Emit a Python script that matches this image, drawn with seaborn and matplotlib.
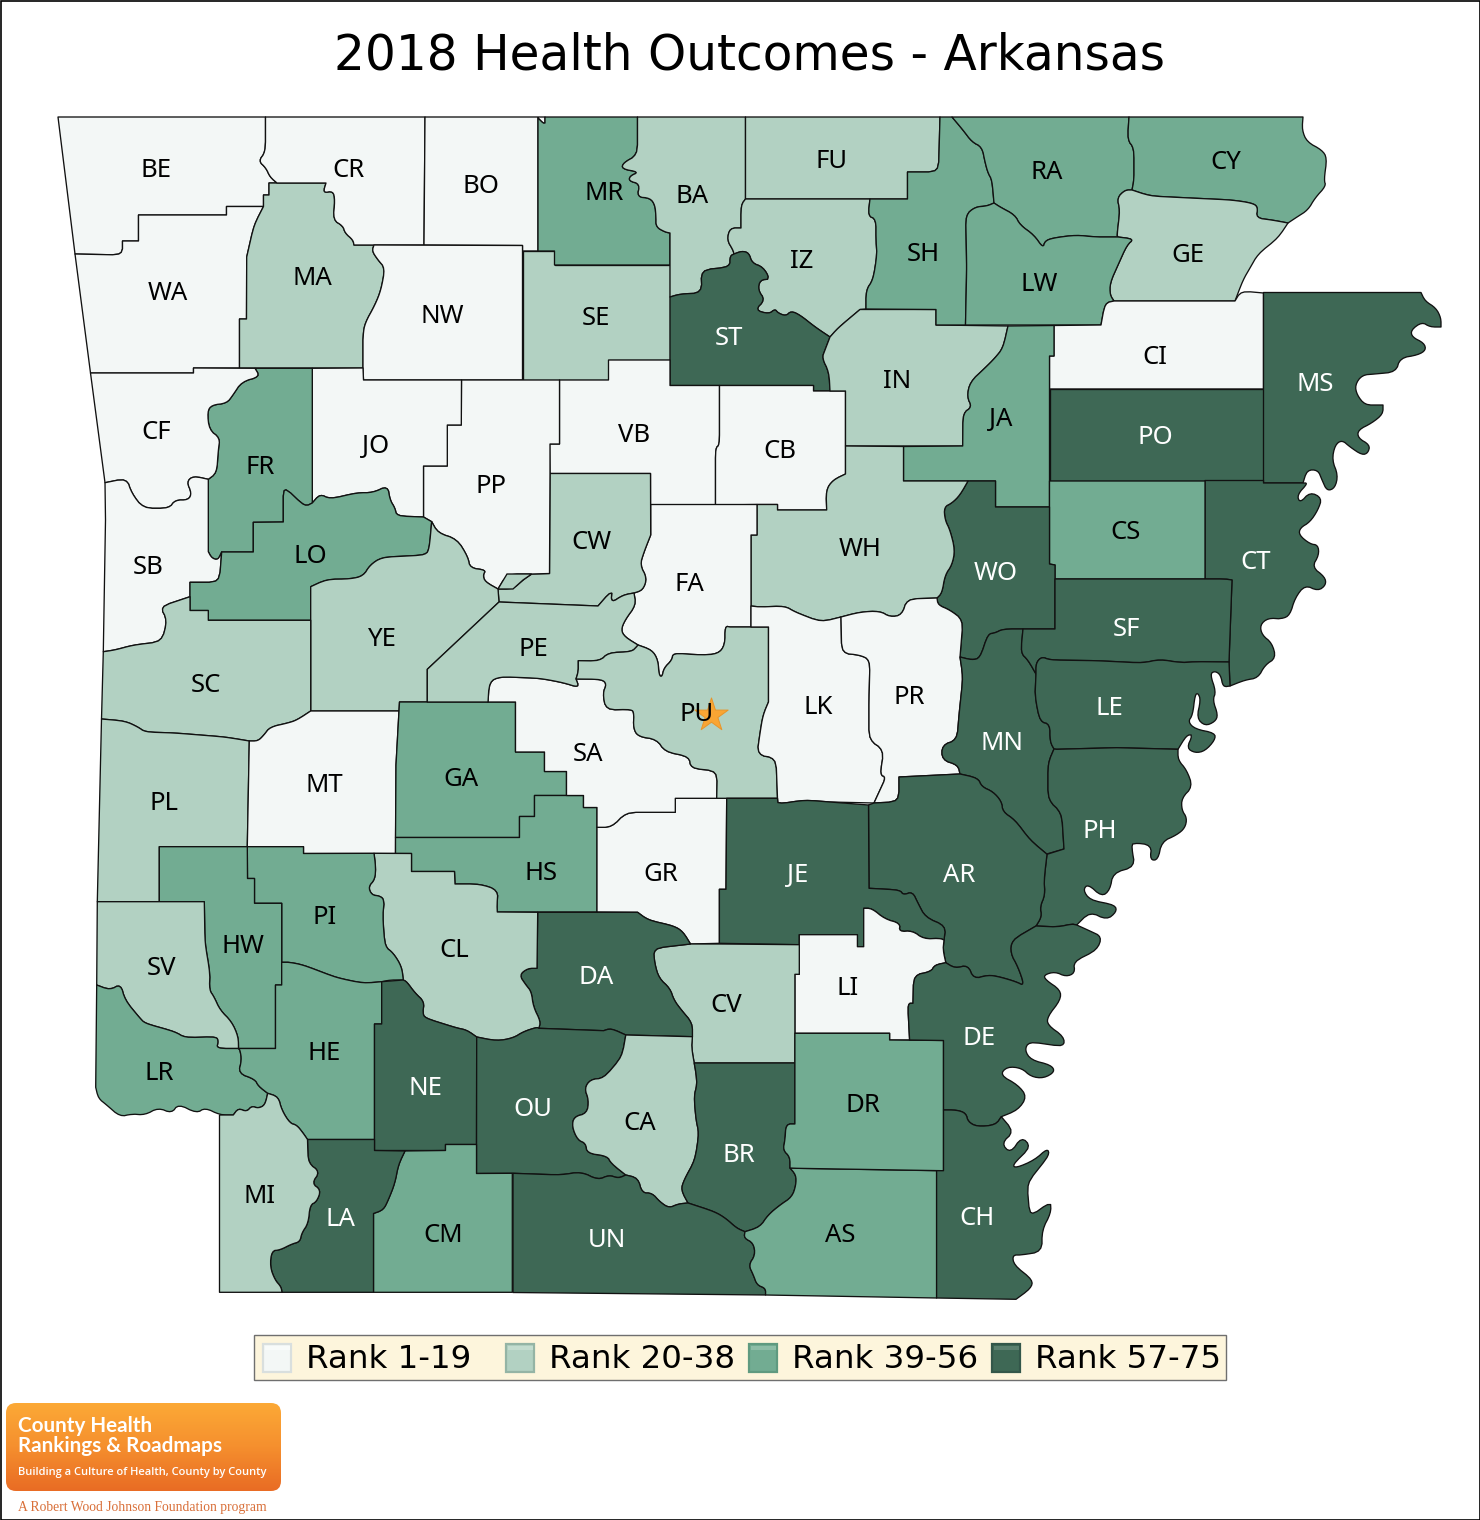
import matplotlib
matplotlib.use("Agg")
import matplotlib.pyplot as plt
from matplotlib.patches import FancyBboxPatch, Polygon, Rectangle
import numpy as np, pandas as pd
import seaborn as sns

title = "2018 Health Outcomes - Arkansas"
rank_labels = ["Rank 1-19", "Rank 20-38", "Rank 39-56", "Rank 57-75"]
rank_colors = ["#f3f7f6", "#b2d1c2", "#72ac92", "#3e6855"]

tier_1 = ["BE", "CR", "BO", "WA", "NW", "CF", "JO", "PP", "VB", "CB", "CI", "SB", "FA", "LK", "PR", "SA", "MT", "GR", "LI"]
tier_2 = ["BA", "FU", "MA", "SE", "IZ", "IN", "GE", "CW", "WH", "SC", "YE", "PE", "PU", "PL", "CL", "CV", "SV", "MI", "CA"]
tier_3 = ["MR", "SH", "RA", "CY", "LW", "FR", "JA", "LO", "CS", "GA", "HS", "PI", "HW", "HE", "LR", "DR", "CM", "AS"]
tier_4 = ["ST", "MS", "PO", "WO", "CT", "SF", "MN", "LE", "JE", "AR", "PH", "DA", "DE", "NE", "OU", "BR", "LA", "UN", "CH"]

# where each county code sits on the map
label_xy = {
    "BE": (156, 168), "CR": (349, 168), "BO": (481, 184), "MR": (604, 191), "BA": (692, 194), "FU": (832, 159),
    "RA": (1047, 170), "CY": (1226, 160), "WA": (168, 291), "MA": (312, 276), "NW": (442, 314), "SE": (596, 316),
    "IZ": (802, 259), "SH": (923, 252), "LW": (1039, 282), "GE": (1188, 253), "ST": (729, 336), "IN": (897, 379),
    "CI": (1155, 355), "MS": (1315, 382), "CF": (156, 430), "FR": (260, 465), "JO": (376, 444), "PP": (491, 484),
    "VB": (634, 433), "CB": (780, 449), "JA": (1001, 417), "PO": (1155, 435), "SB": (148, 565), "LO": (310, 554),
    "CW": (591, 540), "FA": (689, 582), "WH": (860, 547), "WO": (996, 571), "CS": (1126, 530), "CT": (1256, 560),
    "SC": (206, 683), "YE": (382, 637), "PE": (533, 647), "SF": (1126, 627), "LK": (818, 705), "PR": (909, 695),
    "PU": (697, 712), "SA": (588, 752), "LE": (1109, 706), "MN": (1002, 741), "PL": (164, 801), "MT": (324, 783),
    "GA": (461, 777), "HS": (541, 871), "GR": (661, 872), "JE": (798, 873), "AR": (959, 873), "PH": (1100, 829),
    "SV": (161, 966), "HW": (243, 944), "PI": (325, 915), "CL": (454, 948), "DA": (596, 975), "CV": (726, 1003),
    "LI": (848, 986), "DE": (979, 1036), "LR": (159, 1071), "HE": (324, 1051), "NE": (425, 1086), "OU": (533, 1107),
    "CA": (640, 1121), "BR": (739, 1153), "DR": (863, 1103), "LA": (340, 1217), "MI": (260, 1194), "CM": (443, 1233),
    "UN": (607, 1238), "AS": (840, 1233), "CH": (977, 1216),
}

# county outlines, in image pixels
outlines = {
    "BE": [(58,117),(265.5,117),(265.5,152),(258.5,161),(266,168),(270,177),(277,183),(269,183),(269,195),(263.5,195),(263.5,206.5),(226.5,206.5),(226.5,215),(138.5,215),(138.5,241),(122.5,241),(122.5,255),(75,254)],
    "WA": [(75,254),(122.5,255),(122.5,241),(138.5,241),(138.5,215),(226.5,215),(226.5,206.5),(263.5,206.5),(254,225),(246.7,257),(246.5,319),(239.5,319),(239.5,368),(193.5,368),(193.5,373),(90.5,373)],
    "MA": [(269,183),(326,183),(323,193),(333,191),(335,200),(333,220),(343,226),(345,233),(353,240),(354,245),(374,245),(372,251),(378,260),(385,268),(381,290),(375,305),(365,323),(363,335),(363,368),(239.5,368),(239.5,319),(246.5,319),(246.7,257),(254,225),(263.5,206.5),(263.5,195),(269,195)],
    "CR": [(265.5,117),(425,117),(424,245),(354,245),(353,240),(345,233),(343,226),(333,220),(335,200),(333,191),(323,193),(326,183),(277,183),(270,177),(266,168),(258.5,161),(265.5,152)],
    "BO": [(425,117),(545,117),(545,125),(538,118),(538,251),(522.5,251),(522.5,245.5),(424,245)],
    "NW": [(374,245),(522.5,245.5),(522.5,380),(363.5,380),(363,368),(363,335),(365,323),(375,305),(381,290),(385,268),(378,260),(372,251)],
    "SE": [(522.5,251),(554.5,251),(554.5,265),(670,265),(670,360),(608.5,360),(608.5,380),(522.5,380)],
    "MR": [(545,117),(637.5,117),(637.5,155),(623,163),(622,169),(639,172),(630,176),(629,181),(640,184),(637,197),(650,198),(655,205),(656,217),(656,227),(665,232),(670,233),(670,265),(554.5,265),(554.5,251),(538,251),(538,118),(545,125)],
    "BA": [(637.5,117),(745.5,117),(745.5,199),(741,205),(741,228),(730,228),(727,240),(733,250),(734,254),(730,256),(730,267),(701,270),(702,293),(680,294),(670,297),(670,233),(665,232),(656,227),(656,217),(655,205),(650,198),(637,197),(640,184),(629,181),(630,176),(639,172),(622,169),(623,163),(637.5,155)],
    "FU": [(745.5,117),(940,117),(938.5,172),(907.5,172),(907.5,199),(745.5,199)],
    "IZ": [(745.5,199),(870,199),(868,216),(876,219),(876,240),(877,255),(873,280),(866,290),(866,309),(860,309.5),(838,328),(830,337),(815,327),(800,315),(791,311),(786,316),(778,313),(775,309),(769,314),(755,310),(765,300),(758,290),(760,280),(770,279),(763,267),(752,263),(749,253),(742,251),(734,254),(733,250),(727,240),(730,228),(741,228),(741,205)],
    "ST": [(670,297),(680,294),(702,293),(701,270),(730,267),(730,256),(734,254),(742,251),(749,253),(752,263),(763,267),(770,279),(760,280),(758,290),(765,300),(755,310),(769,314),(775,309),(778,313),(786,316),(791,311),(800,315),(815,327),(830,337),(825,350),(822,358),(829,372),(830,391),(813.5,391),(813.5,385.5),(670,385.5)],
    "VB": [(608.5,360),(670,360),(670,385.5),(719.5,385.5),(719.5,445),(715.5,448),(715.5,505),(650.5,505),(650.5,473.5),(550,473.5),(549.5,444),(559.5,444),(559.5,380),(608.5,380)],
    "CB": [(719.5,385.5),(813.5,385.5),(813.5,391),(845.5,391),(845.5,474),(833,480),(826,490),(826.7,510),(777.5,510),(777.5,504.5),(757,504.5),(715.5,505),(715.5,448),(719.5,445)],
    "IN": [(860,309.5),(936,309.5),(936,325),(1008,326),(1003,348),(995,358),(985,368),(970,382),(967,397),(972,407),(963,413),(962.7,446),(845.5,446),(845.5,391),(830,391),(829,372),(822,358),(825,350),(830,337),(838,328)],
    "SH": [(940,117),(952,117),(963,130),(972,142),(982,147),(985,162),(988,173),(992,180),(994,203),(987,206),(975,207),(965.7,215),(966.7,267),(965.5,325),(936,325),(936,309.5),(866,309),(866,290),(873,280),(877,255),(876,240),(876,219),(868,216),(870,199),(907.5,199),(907.5,172),(938.5,172)],
    "RA": [(952,117),(1129,117),(1127.5,140),(1134,148),(1134,180),(1132,190),(1125,190),(1117,198),(1120,210),(1117,235),(1118,237),(1095,237),(1076,235),(1053,238),(1045,241),(1043,248),(1034,235),(1020,225),(1015,215),(1000,207),(994,203),(992,180),(988,173),(985,162),(982,147),(972,142),(963,130)],
    "CY": [(1129,117),(1303,117),(1302,130),(1307,142),(1322,150),(1327,158),(1324,180),(1326,186),(1315,198),(1308,210),(1297,217),(1288,223),(1272,220),(1256,218),(1258,207),(1252,203),(1232,200),(1190,198),(1150,196),(1132,190),(1134,180),(1134,148),(1127.5,140)],
    "GE": [(1132,190),(1150,196),(1190,198),(1232,200),(1252,203),(1258,207),(1256,218),(1272,220),(1288,223),(1278,238),(1258,254),(1250,268),(1243,280),(1235,301),(1114,301),(1110,295),(1110,283),(1118,265),(1127,245),(1134,239),(1118,237),(1117,235),(1120,210),(1117,198),(1125,190)],
    "LW": [(965.7,215),(975,207),(987,206),(994,203),(1000,207),(1015,215),(1020,225),(1034,235),(1043,248),(1045,241),(1053,238),(1076,235),(1095,237),(1118,237),(1134,239),(1127,245),(1118,265),(1110,283),(1110,295),(1114,301),(1105,303),(1101,325),(965.5,325),(966.7,267)],
    "CI": [(1114,301),(1235,301),(1241,291),(1263.5,293),(1263.5,389),(1049.5,389),(1049.5,356),(1054,356),(1054,325.5),(1101,325),(1105,303)],
    "JA": [(1008,326),(1054,325.5),(1054,356),(1049.5,356),(1049.5,507),(995.5,507),(995.5,481),(903.5,481),(903.5,446.5),(962.7,446),(963,413),(972,407),(967,397),(970,382),(985,368),(995,358),(1003,348)],
    "PO": [(1049.5,389),(1263.5,389),(1263.5,480.5),(1049.5,480.5)],
    "MS": [(1263.5,292.5),(1421,292.5),(1425,301),(1436,308),(1441,318),(1441,327),(1430,327),(1422,322),(1411,330),(1412,337),(1424,343),(1426,350),(1418,355),(1400,358),(1396,372),(1375,374),(1362,375),(1355,385),(1357,395),(1365,405),(1378,405),(1383,405),(1383,414),(1372,423),(1358,430),(1358,438),(1370,445),(1368,453),(1362,455),(1350,447),(1342,440),(1335,445),(1332,460),(1338,475),(1335,488),(1327,491),(1322,480),(1318,470),(1307,470),(1303,483),(1263.5,483)],
    "CT": [(1205,480.5),(1263.5,480.5),(1263.5,483),(1303,483),(1308,483),(1297,495),(1300,503),(1310,492),(1322,498),(1318,510),(1310,522),(1300,528),(1299,535),(1310,544),(1318,545),(1319,555),(1312,567),(1325,577),(1326,585),(1318,591),(1305,585),(1295,598),(1290,615),(1282,619),(1268,618),(1260,625),(1262,635),(1272,643),(1276,658),(1265,665),(1258,678),(1245,680),(1230,686),(1229,662),(1232,580),(1225,579),(1205,579)],
    "CS": [(1049.5,481),(1205,481),(1205,579),(1055,579),(1055,565),(1049.5,564)],
    "WO": [(968,481),(995.5,481),(995.5,507),(1049.5,507),(1049.5,564),(1055,565),(1055,629),(1023,629),(1003,629),(995,633),(988,634),(980,658),(972,660),(960,657),(963,620),(950,610),(938,605),(937,598),(942,593),(945,575),(952,565),(955,550),(950,530),(945,520),(944,507),(952,503),(960,495)],
    "WH": [(757,504.5),(777.5,504.5),(777.5,510),(826.7,510),(826,490),(833,480),(845.5,474),(845.5,446),(903.5,446.5),(903.5,481),(968,481),(960,495),(952,503),(944,507),(945,520),(950,530),(955,550),(952,565),(945,575),(942,593),(937,598),(907,599),(902,615),(890,617),(880,611),(860,612),(841,617),(821,622),(795,612),(785,606),(760,607),(751,606),(751,535),(757,535)],
    "FA": [(650.7,504.5),(757,504.5),(757,535),(751,535),(751,627),(730,627),(725,626),(725,645),(718,654),(700,655),(673,653),(672,660),(664,668),(662,677),(659,675),(658,660),(652,650),(638,645),(625,637),(621,630),(625,620),(636,605),(634,593),(643,590),(647,578),(640,565),(644,552),(650.7,535)],
    "CW": [(550,473.5),(650.5,473.5),(650.7,535),(644,552),(640,565),(647,578),(643,590),(634,593),(623,595),(611,603),(612,590),(598,606),(499,602),(498,589),(513,589),(523,580),(531.7,574),(549.5,573.5)],
    "PP": [(461.5,380),(559.5,380),(559.5,444),(550,444),(550,473.5),(549.5,573.5),(531.7,574),(507,574),(498,589),(485,581.7),(483,575),(486,570),(470,568),(468,557),(457,539),(438,533),(431.7,521.7),(423.5,517),(423.5,466),(447.3,466),(447.3,425),(461.3,425)],
    "JO": [(312.3,368.3),(363,368),(363.5,380),(461.5,380),(461.3,425),(447.3,425),(447.3,466),(423.5,466),(423.5,517),(396.7,516),(395,508),(390,500),(387.7,485.7),(373,492.7),(357,492.7),(330,499),(320,494),(312.3,503)],
    "FR": [(255,368.3),(312.3,368.3),(312.3,503),(305,506.7),(283.3,486),(283.3,522),(253.3,522.3),(253.3,552),(221.7,552),(218,560),(211.7,558),(208.3,551.7),(208.3,479.3),(216.7,473),(218.3,450),(220,438),(209.3,430),(207.3,411.7),(211.7,405),(226.7,403.3),(233,395),(241.7,381.7),(260,376.7)],
    "CF": [(90.5,373),(193.5,373),(193.5,368),(255,368.3),(260,376.7),(241.7,381.7),(233,395),(226.7,403.3),(211.7,405),(207.3,411.7),(209.3,430),(220,438),(218.3,450),(216.7,473),(208.3,479.3),(193.3,476),(186.7,481.7),(191.7,493.3),(188.3,500),(175,500),(169.3,508.3),(143.3,508.3),(131.7,493.3),(126.7,478.3),(105,482.7)],
    "SB": [(105,482.7),(126.7,478.3),(131.7,493.3),(143.3,508.3),(169.3,508.3),(175,500),(188.3,500),(191.7,493.3),(186.7,481.7),(193.3,476),(208.3,479.3),(208.3,551.7),(211.7,558),(218,560),(221.7,552),(219.3,582.3),(190,582.3),(190,596.7),(160,606.7),(167.3,620),(161.7,641.7),(133.3,645),(115,650),(103.3,651.7),(105.5,520)],
    "LO": [(283.3,486),(305,506.7),(312.3,503),(320,494),(330,499),(357,492.7),(373,492.7),(387.7,485.7),(390,500),(395,508),(396.7,516),(423.5,517),(431.7,521.7),(429.3,548),(426,555),(381.7,557.3),(370,565),(363.3,576),(350,579),(326.7,579.3),(310.7,586.7),(310.7,620.3),(208.3,620.3),(208.3,610.5),(190,610.5),(190,582.3),(219.3,582.3),(221.7,552),(253.3,552),(253.3,522.3),(283.3,522)],
    "YE": [(310.7,586.7),(326.7,579.3),(350,579),(363.3,576),(370,565),(381.7,557.3),(426,555),(429.3,548),(431.7,521.7),(438,533),(457,539),(468,557),(470,568),(486,570),(483,575),(485,581.7),(498,589),(499,602),(427.3,669.3),(427.3,702),(399.5,702),(399,711),(310.7,711)],
    "SC": [(103.3,651.7),(115,650),(133.3,645),(161.7,641.7),(167.3,620),(160,606.7),(190,596.7),(190,610.5),(208.3,610.5),(208.3,620.3),(310.7,620.3),(310.7,711),(297,720),(288,723),(270,727),(264,735),(258,741),(249.3,741),(225,737),(175,733),(145,732),(138,727),(125,721),(101.5,719)],
    "PL": [(101.5,719),(125,721),(138,727),(145,732),(175,733),(225,737),(249.3,741),(247.3,846.7),(159.3,846.7),(159.3,901.7),(97.3,901.7)],
    "MT": [(249.3,741),(258,741),(264,735),(270,727),(288,723),(297,720),(310.7,711),(399,711),(396,765),(395.5,853.5),(303.5,853.5),(303.5,846.7),(247.3,846.7)],
    "GA": [(399.5,702),(515.5,702),(515.5,752),(544.5,752),(544.5,771.5),(566.5,771.5),(566.5,795.5),(534.5,795.5),(534.5,816.5),(519.5,816.5),(519.5,837.5),(395.5,837.5),(396,765)],
    "HS": [(395.5,837.5),(519.5,837.5),(519.5,816.5),(534.5,816.5),(534.5,795.5),(583.5,795.5),(583.5,807.5),(597,807.5),(597,912),(497.3,912),(497,905),(498,890),(480,884),(455,884),(454.5,871.5),(411.5,871.5),(411.5,853.5),(395.5,853.5)],
    "GR": [(597,827.3),(611.7,827.3),(626,812.3),(675.3,812.3),(675.3,798.3),(726.7,798.3),(726,889.3),(719.4,889.3),(719.4,943.3),(690.5,944),(683,931.7),(674,926),(648,920),(637.6,912.3),(597,912)],
    "SA": [(489.3,681.7),(500,676.7),(540,678.3),(563.3,682.7),(579.3,687.7),(576,679),(601.7,679.3),(606.7,684),(602.7,693.3),(606,710),(631.7,709.3),(634,713.3),(633.3,728.3),(638.3,736.7),(656.7,739.3),(665,751.7),(689.3,756.7),(690.7,768.3),(717.3,771),(716.7,798.3),(675.3,798.3),(675.3,812.3),(626,812.3),(611.7,827.3),(597,827.3),(597,807.5),(583.5,807.5),(583.5,795.5),(566.5,795.5),(566.5,771.5),(544.5,771.5),(544.5,752),(515.5,752),(515.5,702),(488,702)],
    "PE": [(499,602),(598,606),(612,590),(611,603),(623,595),(634,593),(636,605),(625,620),(621,630),(625,637),(638,645),(636.7,646.7),(631.7,651.7),(608.3,652.7),(600,661),(578.3,660.7),(578.3,671.7),(576,679),(579.3,687.7),(563.3,682.7),(540,678.3),(500,676.7),(489.3,681.7),(488,702),(427.3,702),(427.3,669.3)],
    "PU": [(638,645),(652,650),(658,660),(659,675),(662,677),(664,668),(672,660),(673,653),(700,655),(718,654),(725,645),(725,626),(730,627),(768.5,627),(768.5,702),(763,715),(760,733),(757,755),(776,758),(777.5,798.3),(716.7,798.3),(717.3,771),(690.7,768.3),(689.3,756.7),(665,751.7),(656.7,739.3),(638.3,736.7),(633.3,728.3),(634,713.3),(631.7,709.3),(606,710),(602.7,693.3),(606.7,684),(601.7,679.3),(576,679),(578.3,671.7),(578.3,660.7),(600,661),(608.3,652.7),(631.7,651.7),(636.7,646.7)],
    "LK": [(751,606),(760,607),(785,606),(795,612),(821,622),(841,617),(841.7,653.3),(860,655),(870,660),(869,700),(869,740),(884,750),(880,775),(886,777),(880,790),(874,803),(830,802),(805,800),(778,804),(777.5,798.3),(776,758),(757,755),(760,733),(763,715),(768.5,702),(768.5,627),(751,627)],
    "PR": [(841,617),(860,612),(880,611),(890,617),(902,615),(907,599),(937,598),(938,605),(950,610),(963,620),(960,657),(963,677),(959,715),(957,740),(942,745),(942,760),(958,765),(960,774),(899,777),(899,801.7),(874,803),(880,790),(886,777),(880,775),(884,750),(869,740),(869,700),(870,660),(860,655),(841.7,653.3)],
    "MN": [(960,657),(972,660),(980,658),(988,634),(995,633),(1003,629),(1023,629),(1020.7,653),(1028,660),(1036,674),(1035,696.7),(1040,721.7),(1050,724),(1050,741.7),(1054,749),(1048,763),(1048,800),(1061.7,812.7),(1064,849),(1046.7,854),(1030,840),(1015,820),(1002.7,811.7),(1001.7,801.7),(993,791.7),(981.7,786.7),(978,778),(960,774),(958,765),(942,760),(942,745),(957,740),(959,715),(963,677)],
    "SF": [(1023,629),(1055,629),(1055,579),(1205,579),(1225,579),(1232,580),(1229,662),(1196.7,661.7),(1180,662.7),(1160,659.3),(1143,663),(1096.7,660.7),(1050,660),(1041.7,656.7),(1036,663),(1036,674),(1028,660),(1020.7,653)],
    "LE": [(1036,663),(1041.7,656.7),(1050,660),(1096.7,660.7),(1143,663),(1160,659.3),(1180,662.7),(1196.7,661.7),(1229,662),(1230,686),(1223,687),(1220.7,675),(1215,671),(1210,674),(1216,691.7),(1212.7,700),(1218,715),(1215,721.7),(1205,726),(1196.7,718),(1200.7,700),(1198,693),(1195,695),(1192.7,715),(1188,721.7),(1195,729),(1215,733),(1215,740),(1205,751),(1195,753),(1186.7,748),(1192.7,735),(1186.7,735),(1178,749.3),(1116.7,747.7),(1056.7,749.3),(1054,749),(1050,741.7),(1050,724),(1040,721.7),(1035,696.7),(1036,674)],
    "PH": [(1054,749),(1056.7,749.3),(1116.7,747.7),(1178,749.3),(1178,760),(1186.7,770),(1192.7,786.7),(1181.7,798),(1181.7,810),(1187,818),(1185,828),(1176.7,835),(1161.7,841.7),(1158,860),(1150,860),(1151.7,845),(1133,842.7),(1131.7,848),(1135,866.7),(1113,873),(1110,890),(1101.7,896.7),(1088,884),(1083,890),(1090,900),(1115,905),(1116.7,911.7),(1106.7,920),(1090,911.7),(1076.7,925),(1071.7,924),(1058,927),(1036,926),(1041.7,916.7),(1040,906.7),(1045,895),(1044,880),(1047,854.3),(1064,849),(1061.7,812.7),(1048,800),(1048,763)],
    "AR": [(899,777),(960,774),(978,778),(981.7,786.7),(993,791.7),(1001.7,801.7),(1002.7,811.7),(1015,820),(1030,840),(1046.7,854),(1047,854.3),(1044,880),(1045,895),(1040,906.7),(1041.7,916.7),(1036,926),(1012,940),(1010.5,953.3),(1018,966.7),(1024.6,986),(1016,981.7),(999,976.7),(988,975),(973.6,979),(968,965),(955,968.3),(945.8,962.7),(943,950),(944,940),(945.8,926),(925.4,917.3),(918,903.3),(912.5,891.7),(903.3,895),(900,890),(869,888.3),(868.5,805),(874,803),(899,801.7)],
    "JE": [(726.7,798.3),(777.5,798.3),(778,804),(805,800),(830,802),(868.5,805),(869,888.3),(900,890),(903.3,895),(912.5,891.7),(918,903.3),(925.4,917.3),(945.8,926),(944,940),(940,938.3),(923.6,939),(912.5,930.7),(899,931.7),(900.3,923.3),(884.8,919),(871.8,908.3),(863.7,908.3),(863.7,946.7),(857.4,946.7),(857.4,934.7),(799.3,934.7),(799.3,944.7),(719.4,943.3),(719.4,889.3),(726,889.3)],
    "LI": [(863.7,908.3),(871.8,908.3),(884.8,919),(900.3,923.3),(899,931.7),(912.5,930.7),(923.6,939),(940,938.3),(944,940),(943,950),(945.8,962.7),(934.7,965),(931,971.7),(913.6,975),(913,1003.3),(907.7,1003.3),(909.6,1040),(889.6,1040),(889.6,1033.3),(794.9,1033.3),(794.9,974.3),(799.3,974.3),(799.3,934.7),(857.4,934.7),(857.4,946.7),(863.7,946.7)],
    "CV": [(719.4,944),(799.3,944.7),(799.3,974.3),(794.9,974.3),(794.9,1063),(694.2,1063),(691.6,1048),(692.4,1036.7),(692.4,1023),(681.3,1010),(673.9,1000),(670,988.3),(659,978.3),(654.6,963.3),(653.5,948.3),(690.5,944)],
    "DA": [(537.7,912.3),(637.6,912.3),(648,920),(674,926),(683,931.7),(690.5,944),(653.5,948.3),(654.6,963.3),(659,978.3),(670,988.3),(673.9,1000),(681.3,1010),(692.4,1023),(692.4,1036.7),(625.8,1035),(611,1028.3),(603.6,1030.7),(538.8,1028.3),(540.7,1021.7),(533.3,1006.7),(531.4,991.7),(525.9,985),(519.2,975),(527.7,968.3),(537,968.3)],
    "CL": [(374,853.3),(411.5,853.5),(411.5,871.5),(454.5,871.5),(455,884),(480,884),(498,890),(497,905),(497.3,912),(537.7,912.3),(537,968.3),(527.7,968.3),(519.2,975),(525.9,985),(531.4,991.7),(533.3,1006.7),(540.7,1021.7),(538.8,1028.3),(536.7,1027.3),(523.3,1031.7),(513.3,1038),(496.7,1041),(476.7,1037),(466.7,1030),(456.7,1028),(425,1018),(422.7,1013),(424.3,1001.7),(415,993),(406.7,981.7),(403.3,980),(401.7,966.7),(393.3,953),(385,946.7),(382.7,916.7),(384.3,900),(380,896),(371.7,895),(368.3,886.7),(375,879.3),(375.7,866.7)],
    "PI": [(247.3,846.7),(303.5,846.7),(303.5,853.5),(374,853.3),(375.7,866.7),(375,879.3),(368.3,886.7),(371.7,895),(380,896),(384.3,900),(382.7,916.7),(385,946.7),(393.3,953),(401.7,966.7),(403.3,980),(390,980),(381.7,981.7),(363.3,983.3),(336.7,977.7),(303.3,965),(290,962.3),(281.7,962.3),(281.7,903.3),(254.5,903.3),(254.5,878.5),(247.5,878.5)],
    "HW": [(159.3,846.7),(247.3,846.7),(247.5,878.5),(254.5,878.5),(254.5,903.3),(281.7,903.3),(281.7,985),(275.5,985),(275.5,1048.5),(238.5,1048.5),(238.3,1036.7),(231.7,1021.7),(220,1010),(214,996.7),(209.3,990),(210,973),(205,943),(204.3,901.7),(159.3,901.7)],
    "SV": [(97.3,901.7),(204.3,901.7),(205,943),(210,973),(209.3,990),(214,996.7),(220,1010),(231.7,1021.7),(238.3,1036.7),(238.5,1048.5),(216.5,1048.5),(218.3,1041.7),(216.7,1036.7),(185,1037.7),(175,1031.7),(145,1023.3),(140,1018.3),(125,1000),(120.7,984),(110,990),(96.7,985)],
    "LR": [(96.7,985),(110,990),(120.7,984),(125,1000),(140,1018.3),(145,1023.3),(175,1031.7),(185,1037.7),(216.7,1036.7),(218.3,1041.7),(216.5,1048.5),(238.5,1048.5),(240,1050),(241.7,1060),(238.3,1073.3),(255,1079.3),(258.3,1086),(267.7,1093.3),(265,1105),(258.3,1108.3),(251.7,1106),(246.7,1111.7),(238.3,1108.3),(233.3,1115),(220,1115),(205,1107.7),(196.7,1113.3),(178.3,1104),(171.7,1113.3),(158.3,1107.7),(145,1115),(131.7,1114),(120,1116.7),(106.7,1105),(98.3,1098.3),(95.7,1087.3)],
    "HE": [(281.7,962.3),(290,962.3),(303.3,965),(336.7,977.7),(363.3,983.3),(381.7,981.7),(381.7,1024),(374.5,1024),(374.5,1139.5),(307.5,1139.5),(303.3,1133.3),(296.7,1125),(290,1123.3),(281.7,1110),(278.3,1096.7),(267.7,1093.3),(258.3,1086),(255,1079.3),(238.3,1073.3),(241.7,1060),(240,1050),(238.5,1048.5),(275.5,1048.5),(275.5,985),(281.7,985)],
    "NE": [(381.7,981.7),(403.3,980),(406.7,981.7),(415,993),(424.3,1001.7),(422.7,1013),(425,1018),(456.7,1028),(466.7,1030),(476.7,1037),(476.5,1144.5),(445.5,1144.5),(445.5,1150.5),(374.5,1150.5),(374.5,1024),(381.7,1024)],
    "OU": [(476.7,1037),(496.7,1041),(513.3,1038),(523.3,1031.7),(536.7,1027.3),(538.8,1028.3),(603.6,1030.7),(611,1028.3),(625.8,1035),(622,1056.7),(603.6,1078.3),(590.6,1079.3),(584.4,1088.3),(588.8,1100),(587,1113.3),(574,1116.7),(572,1126.7),(577.7,1140),(585.8,1143.3),(587,1153.3),(607.3,1156),(611,1163.3),(625.8,1175),(618.4,1178.3),(609,1175),(598,1180),(581.4,1171.7),(561,1175),(513,1173.3),(476.5,1173.5)],
    "CA": [(625.8,1035),(692.4,1036.7),(691.6,1048),(694.2,1063),(696,1073),(697,1085),(694,1096),(696,1120),(699,1133),(695,1160),(684,1180),(681,1190),(688,1203),(678,1204),(669,1208),(660,1202),(652,1193),(642,1193),(638,1178),(625.8,1175),(611,1163.3),(607.3,1156),(587,1153.3),(585.8,1143.3),(577.7,1140),(572,1126.7),(574,1116.7),(587,1113.3),(588.8,1100),(584.4,1088.3),(590.6,1079.3),(603.6,1078.3),(622,1056.7)],
    "BR": [(694.2,1063),(794.9,1063),(794.9,1124),(786,1124),(785,1140),(783,1150),(790,1157),(790,1168),(796,1175),(796,1185),(792,1197),(780,1205),(768,1215),(760,1227),(745,1231.7),(736.8,1228.3),(725.7,1218.3),(714.6,1211.7),(688,1203),(681,1190),(684,1180),(695,1160),(699,1133),(696,1120),(694,1096),(697,1085),(696,1073)],
    "UN": [(513,1173.3),(561,1175),(581.4,1171.7),(598,1180),(609,1175),(618.4,1178.3),(625.8,1175),(638,1178),(642,1193),(652,1193),(660,1202),(669,1208),(678,1204),(688,1203),(714.6,1211.7),(725.7,1218.3),(736.8,1228.3),(745,1231.7),(744,1238),(753.4,1243),(755.3,1255),(748.6,1265),(753.4,1275),(757,1285),(765.6,1288.3),(765.6,1295),(513,1292.5)],
    "AS": [(796.7,1168.3),(936.6,1170.7),(936.6,1298),(765.6,1295),(765.6,1288.3),(757,1285),(753.4,1275),(748.6,1265),(755.3,1255),(753.4,1243),(744,1238),(745,1231.7),(760,1227),(768,1215),(780,1205),(792,1197),(796,1185),(796,1175),(790,1168)],
    "DR": [(794.9,1033.3),(889.6,1033.3),(889.6,1040),(943.5,1040.5),(943.5,1170.7),(796.7,1168.3),(790,1168),(790,1157),(783,1150),(785,1140),(786,1124),(794.9,1124)],
    "DE": [(909.6,1040),(907.7,1003.3),(913,1003.3),(913.6,975),(931,971.7),(934.7,965),(945.8,962.7),(955,968.3),(968,965),(973.6,979),(988,975),(999,976.7),(1016,981.7),(1024.6,986),(1018,966.7),(1010.5,953.3),(1012,940),(1036,926),(1058,927),(1071.7,924),(1076.7,925),(1090,931),(1102,936.7),(1097,950),(1073.5,961.7),(1075,973),(1066,976.7),(1055,971.7),(1043.8,975),(1045.7,980),(1060.5,990),(1060.5,1000),(1047.5,1016.7),(1047.5,1025),(1064,1036.7),(1064,1046.7),(1029,1041.7),(1024.6,1050),(1031,1060),(1051,1065),(1055,1071.7),(1043.8,1078.3),(1031,1076.7),(1021.6,1068),(1006.9,1066.7),(1000,1075),(1018,1085),(1027,1096.7),(1018,1110),(1001.3,1116.7),(995.7,1125),(977,1126.7),(968,1121.7),(966,1113.3),(957,1110),(943.5,1110),(943.5,1040.5)],
    "CH": [(943.5,1110),(957,1110),(966,1113.3),(968,1121.7),(977,1126.7),(995.7,1125),(1001.3,1116.7),(1014,1131.7),(1001.3,1143.3),(1010.5,1153.3),(1021.6,1136.7),(1031,1146.7),(1012.4,1165),(1016,1168),(1034.6,1160),(1047.5,1148.3),(1049.4,1155),(1027,1183.3),(1029.8,1216.7),(1050.5,1201.7),(1051,1213),(1042,1230),(1042,1251.7),(1021.6,1255),(1012.4,1255),(1014,1265),(1032.8,1280),(1031,1288.3),(1016,1299.3),(936.6,1298),(936.6,1170.7),(943.5,1170.7)],
    "CM": [(405,1151),(445.5,1150.5),(445.5,1144.5),(476.5,1144.5),(476.5,1173.5),(512.3,1173.3),(512.3,1292.3),(373.5,1292.3),(373.5,1213.5),(383.3,1210),(388.3,1200),(395,1183),(398.3,1165)],
    "LA": [(307.5,1139.5),(374.5,1139.5),(374.5,1150.5),(405,1151),(398.3,1165),(395,1183),(388.3,1200),(383.3,1210),(373.5,1213.5),(373.5,1292.3),(282,1292.3),(281,1286.7),(275,1280),(270,1266.7),(271.7,1250.7),(280,1250),(291.7,1244),(300,1241.7),(301.7,1233),(308.3,1223.3),(310,1205),(316.7,1201.7),(321,1190),(311.7,1183.3),(320,1171.7),(308.3,1163.3),(307.7,1146.7)],
    "MI": [(267.7,1093.3),(278.3,1096.7),(281.7,1110),(290,1123.3),(296.7,1125),(303.3,1133.3),(307.5,1139.5),(307.7,1146.7),(308.3,1163.3),(320,1171.7),(311.7,1183.3),(321,1190),(316.7,1201.7),(310,1205),(308.3,1223.3),(301.7,1233),(300,1241.7),(291.7,1244),(280,1250),(271.7,1250.7),(270,1266.7),(275,1280),(281,1286.7),(282,1292.3),(219.5,1292.3),(219.5,1115),(233.3,1115),(238.3,1108.3),(246.7,1111.7),(251.7,1106),(258.3,1108.3),(265,1105)],
}
# the small unlabelled sliver between PP and CW
sliver = [(498,589),(507,574),(531.7,574),(523,580),(513,589)]

hospital_star = (711, 715)

logo_lines = ["County Health", "Rankings & Roadmaps", "Building a Culture of Health, County by County"]
logo_sub = "A Robert Wood Johnson Foundation program"


def seg_len(p, q):
    return np.hypot(q[0] - p[0], q[1] - p[1])


def is_straight_corner(a, b, c):
    """Both sides of the corner run along x or y, so it is a survey line."""
    def axis(p, q):
        return abs(p[0] - q[0]) < 0.8 or abs(p[1] - q[1]) < 0.8
    return axis(a, b) and axis(b, c)


def cut_toward(p, q, limit=5.0):
    d = seg_len(p, q)
    f = min(0.25, limit / d) if d > 0 else 0
    return (round(p[0] + f * (q[0] - p[0]), 3), round(p[1] + f * (q[1] - p[1]), 3))


def smooth_round(shapes):
    """One corner-cutting pass; junctions and long straight edges keep their corners."""
    seen = {}
    for pts in shapes.values():
        n = len(pts)
        for i, p in enumerate(pts):
            seen.setdefault(p, set()).add(frozenset((pts[i - 1], pts[(i + 1) % n])))
    out = {}
    for code, pts in shapes.items():
        n = len(pts)
        new = []
        for i, p in enumerate(pts):
            a, c = pts[i - 1], pts[(i + 1) % n]
            keep = len(seen[p]) > 1 or is_straight_corner(a, p, c)
            if keep or max(seg_len(p, a), seg_len(p, c)) > 60:
                new.append(p)
            else:
                new.append(cut_toward(p, a))
                new.append(cut_toward(p, c))
        out[code] = new
    return out


sns.set_theme(style="white", rc={"axes.facecolor": "white", "figure.facecolor": "white"})
plt.rcParams["font.family"] = ["DejaVu Sans"]
palette = sns.color_palette(rank_colors)

fig = plt.figure(figsize=(14.8, 15.2), dpi=100)
ax = fig.add_axes([0, 0, 1, 1])

tiers = {c: i for i, group in enumerate([tier_1, tier_2, tier_3, tier_4]) for c in group}
shapes = outlines
for _ in range(2):
    shapes = smooth_round(shapes)
for code, pts in shapes.items():
    ax.add_patch(Polygon(pts, closed=True, facecolor=palette[tiers[code]], edgecolor="#111111",
                         linewidth=0.95, joinstyle="round", zorder=2))
ax.add_patch(Polygon(sliver, closed=True, facecolor=palette[1], edgecolor="#111111", linewidth=0.95, zorder=2))

# star goes under the PU label
star = pd.DataFrame({"x": [hospital_star[0]], "y": [hospital_star[1]]})
sns.scatterplot(data=star, x="x", y="y", marker="*", s=640, color="#f9a533", edgecolor="#e8952a",
                linewidth=0.7, ax=ax, zorder=3, legend=False)

for code, (x, y) in label_xy.items():
    col = "white" if tiers[code] == 3 else "black"
    ax.text(x, y + 2.5, code, ha="center", va="center", fontsize=18.5, color=col, zorder=4, family="Noto Sans")

ax.text(749, 55, title, ha="center", va="center", fontsize=35, color="black")

# legend strip
ax.add_patch(Rectangle((254, 1335), 972, 45, facecolor="#fdf5dc", edgecolor="#6f6f6f", linewidth=1))
swatch_x = [263, 506, 749, 992]
text_x = [306, 549, 792, 1035]
edge_cols = ["#d9dfde", "#94b4a5", "#5f9a80", "#33574a"]
glaze = ["#f8fbfa", "#c3dccf", "#8dbda7", "#5b806f"]
for i, lab in enumerate(rank_labels):
    ax.add_patch(Rectangle((swatch_x[i], 1344), 28, 28, facecolor=palette[i], edgecolor=edge_cols[i], linewidth=1.6))
    ax.add_patch(Rectangle((swatch_x[i] + 1.5, 1345.5), 25, 4, facecolor=glaze[i], edgecolor="none"))
    ax.text(text_x[i], 1360, lab, ha="left", va="center", fontsize=23.4, color="black")

# logo, orange gradient clipped to a rounded box
grad = np.linspace(0, 1, 64).reshape(-1, 1)
cmap = sns.blend_palette(["#fca936", "#f58f2e", "#e96c24"], as_cmap=True)
img = ax.imshow(grad, extent=(6, 281, 1491, 1403), cmap=cmap, aspect="auto", zorder=2)
box = FancyBboxPatch((6 + 10, 1403 + 10), 275 - 20, 88 - 20, boxstyle="round,pad=10,rounding_size=10",
                     facecolor="none", edgecolor="none", transform=ax.transData)
ax.add_patch(box)
img.set_clip_path(box)
ax.text(18, 1425.5, logo_lines[0], color="white", fontsize=14.9, va="center", family="Lato", fontweight="bold", zorder=3)
ax.text(18, 1446, logo_lines[1], color="white", fontsize=14.9, va="center", family="Lato", fontweight="bold", zorder=3)
ax.text(18, 1472.5, logo_lines[2], color="white", fontsize=8.0, va="center", family="Open Sans", fontweight="semibold", zorder=3)
ax.text(18, 1507, logo_sub, color="#d9703a", fontsize=9.85, va="center", family="Liberation Serif")

ax.set_xlim(0, 1480)
ax.set_ylim(1520, 0)
ax.axis("off")

# thin frame round the whole image
ax.add_patch(Rectangle((0.5, 0.5), 1479, 1519, facecolor="none", edgecolor="black", linewidth=1.2, clip_on=False, zorder=5))

fig.savefig("out.png", dpi=100, facecolor="white")
